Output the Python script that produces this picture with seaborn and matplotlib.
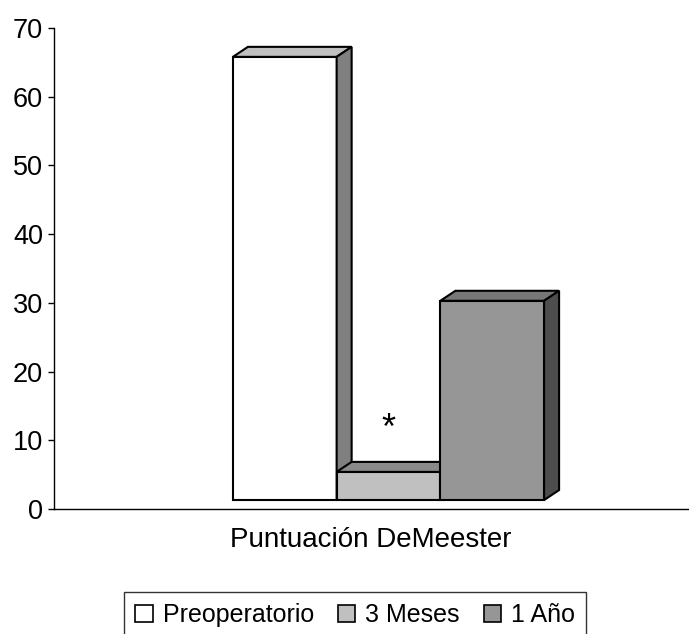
import matplotlib
matplotlib.use("Agg")
import matplotlib.pyplot as plt
import seaborn as sns
import pandas as pd
import numpy as np
from matplotlib.patches import Polygon, Patch

# ---- data ----
categories = ["Puntuación DeMeester"]
series = ["Preoperatorio", "3 Meses", "1 Año"]
values = [64.5, 4.1, 29.0]
yticks = [0, 10, 20, 30, 40, 50, 60, 70]
annotation = "*"
annot_series = "3 Meses"
annot_value = 10.2

# ---- style ----
front_colors = ["#ffffff", "#c0c0c0", "#969696"]
top_colors = ["#c0c0c0", "#8a8a8a", "#777777"]
side_colors = ["#808080", "#606060", "#4d4d4d"]
FLOOR = 1.3          # 3D floor set-back (data units)
DX, DY = 15, 10      # 3D depth in pixels
LW = 1.5

sns.set_theme(style="white")
plt.rcParams['font.family'] = ['Liberation Sans', 'DejaVu Sans']

fig = plt.figure(figsize=(6.89, 6.34), dpi=100)
W, H = 689, 634
ax = fig.add_axes([54 / W, 1 - 509 / H, (688 - 54) / W, (509 - 28) / H])

df = pd.DataFrame({"cat": categories * len(series), "serie": series, "valor": values})
sns.barplot(data=df, x="cat", y="valor", hue="serie", hue_order=series,
            palette=front_colors, width=0.8, edgecolor="black", linewidth=LW,
            bottom=FLOOR, ax=ax, legend=False, errorbar=None)

ax.set_xlim(-0.86, 0.77)
ax.set_ylim(0, 70)
ax.set_yticks(yticks)
ax.set_xticks([])
ax.set_ylabel("")
ax.set_xlabel(categories[0], fontsize=20, color="black")
ax.xaxis.set_label_coords(0.5, -0.038)

for s in ["top", "right"]:
    ax.spines[s].set_visible(False)
for s in ["left", "bottom"]:
    ax.spines[s].set_color("black")
    ax.spines[s].set_linewidth(1.0)
ax.tick_params(axis="y", direction="out", length=4, width=1.0, colors="black",
               labelsize=19.5, pad=4, left=True)

# 3D faces
fig.canvas.draw()
T = ax.transData
Ti = T.inverted()
bars = ax.patches[:len(series)]
for i, p in enumerate(bars):
    x0, b = p.get_x(), p.get_y()
    x1, t = x0 + p.get_width(), b + p.get_height()
    (X0, Tt), (X1, B) = T.transform([(x0, t), (x1, b)])
    top = [(X0, Tt), (X1, Tt), (X1 + DX, Tt + DY), (X0 + DX, Tt + DY)]
    side = [(X1, Tt), (X1 + DX, Tt + DY), (X1 + DX, B + DY), (X1, B)]
    p.set_zorder(10 * i + 1)
    ax.add_patch(Polygon(Ti.transform(top), closed=True, facecolor=top_colors[i],
                         edgecolor="black", linewidth=LW, joinstyle="miter", zorder=10 * i + 2))
    ax.add_patch(Polygon(Ti.transform(side), closed=True, facecolor=side_colors[i],
                         edgecolor="black", linewidth=LW, joinstyle="miter", zorder=10 * i + 3))

# annotation
ai = series.index(annot_series)
pa = bars[ai]
ax.text(pa.get_x() + pa.get_width() / 2, annot_value, annotation, ha="center",
        va="baseline", fontsize=26, color="black", zorder=50)

# legend
handles = [Patch(facecolor=c, edgecolor="black", linewidth=1.2) for c in front_colors]
leg = fig.legend(handles, series, loc="upper left", bbox_to_anchor=(124 / W, 1 - 592 / H),
                 ncol=3, fontsize=18, frameon=True, fancybox=False, shadow=False,
                 handlelength=0.7, handleheight=0.7, handletextpad=0.4,
                 columnspacing=0.95, borderpad=0.45, borderaxespad=0)
leg.get_frame().set_edgecolor("black")
leg.get_frame().set_linewidth(1.0)
for txt in leg.get_texts():
    txt.set_color("black")

fig.savefig("out.png", dpi=100)
